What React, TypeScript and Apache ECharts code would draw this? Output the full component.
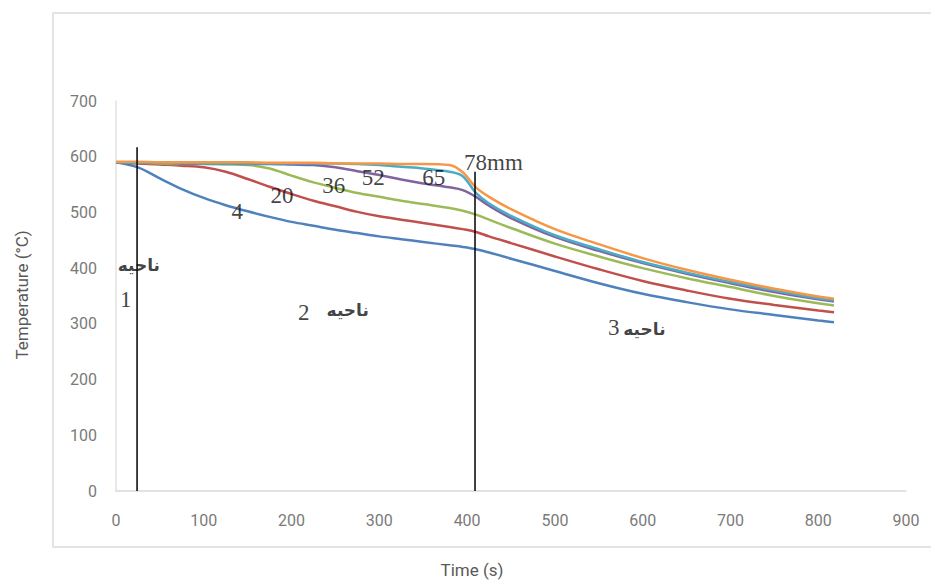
import React, { useEffect, useRef } from "react";
import * as echarts from "echarts";

const timeS = [0, 25, 50, 75, 100, 125, 150, 175, 200, 225, 250, 275, 300, 325, 350, 380, 395, 410, 425, 450, 500, 550, 600, 650, 700, 750, 800, 818];

const t4mm = [590, 581, 561, 542, 526, 513, 502, 492, 483, 476, 469, 463, 457, 452, 447, 441, 438, 434, 428, 417, 395, 373, 354, 339, 326, 316, 306, 303];
const t20mm = [590, 588, 586, 584, 581, 573, 560, 546, 533, 521, 511, 501, 493, 487, 481, 474, 470, 465, 457, 445, 421, 398, 377, 360, 345, 334, 324, 321];
const t36mm = [590, 589, 588, 587, 587, 586, 585, 579, 566, 554, 544, 535, 528, 521, 515, 508, 503, 496, 487, 472, 444, 421, 400, 382, 366, 350, 337, 333];
const t52mm = [590, 589, 589, 588, 588, 588, 587, 587, 586, 585, 581, 574, 567, 559, 552, 545, 540, 528, 512, 490, 456, 431, 409, 390, 373, 357, 344, 340];
const t65mm = [590, 589, 589, 589, 588, 588, 588, 588, 588, 588, 588, 587, 585, 582, 579, 573, 565, 535, 516, 494, 459, 434, 411, 392, 375, 360, 346, 342];
const t78mm = [591, 591, 590, 590, 590, 590, 590, 589, 589, 589, 588, 588, 588, 587, 587, 585, 572, 545, 528, 506, 470, 443, 418, 397, 379, 363, 349, 345];

const seriesNames = ["4mm", "20mm", "36mm", "52mm", "65mm", "78mm"];
const seriesColors = ["#4F81BD", "#C0504D", "#9BBB59", "#8064A2", "#4BACC6", "#F79646"];
const seriesValues = [t4mm, t20mm, t36mm, t52mm, t65mm, t78mm];

// region boundaries: [time, top temperature]
const boundaries = [
  [24, 617],
  [409, 573],
];

// curve labels: [time, temperature, text]
const curveLabels: [number, number, string][] = [
  [138, 501, "4"],
  [189, 530, "20"],
  [248, 549, "36"],
  [293, 562, "52"],
  [362, 562, "65"],
  [430, 590, "78mm"],
  [11, 343, "1"],
  [214, 321, "2"],
  [567, 293, "3"],
];

// region labels (Persian): [time, temperature, text]
const regionLabels: [number, number, string][] = [
  [26, 406, "ناحیه"],
  [264, 325, "ناحیه"],
  [602, 290, "ناحیه"],
];

const xTicks = [0, 900, 100];
const yTicks = [0, 700, 100];

export default function App() {
  const ref = useRef<HTMLDivElement>(null);
  useEffect(() => {
    if (!ref.current) return;
    const chart = echarts.init(ref.current, null, { renderer: "svg" });
    const lineSeries = seriesNames.map((name, i) => ({
      type: "line",
      name,
      data: timeS.map((t, j) => [t, seriesValues[i][j]]),
      smooth: 0.35,
      showSymbol: false,
      symbol: "none",
      lineStyle: { color: seriesColors[i], width: 2.5 },
      z: 2 + i,
    }));
    const boundarySeries = boundaries.map((b, i) => ({
      type: "line",
      name: "boundary" + i,
      data: [
        [b[0], 0],
        [b[0], b[1]],
      ],
      symbol: "none",
      lineStyle: { color: "#000", width: 1.5 },
      z: 10,
    }));
    const option: any = {
      animation: false,
      backgroundColor: "#fff",
      grid: { left: 116, right: 25, top: 101, bottom: 91 },
      xAxis: {
        type: "value",
        min: xTicks[0],
        max: xTicks[1],
        interval: xTicks[2],
        axisLine: { show: true, lineStyle: { color: "#d9d9d9", width: 1.5 } },
        axisTick: { show: false },
        splitLine: { show: false },
        axisLabel: { color: "#7a7a7a", fontFamily: "Roboto", fontSize: 16, margin: 21 },
      },
      yAxis: {
        type: "value",
        min: yTicks[0],
        max: yTicks[1],
        interval: yTicks[2],
        axisLine: { show: true, lineStyle: { color: "#e3e3e3", width: 1.5 } },
        axisTick: { show: false },
        splitLine: { show: false },
        axisLabel: { color: "#7a7a7a", fontFamily: "Roboto", fontSize: 16, margin: 19 },
      },
      graphic: [
        {
          type: "rect",
          shape: { x: 53, y: 13, width: 900, height: 534 },
          style: { fill: "none", stroke: "#dcdcdc", lineWidth: 1.5 },
          silent: true,
          z: -1,
        },
        {
          type: "text",
          x: 22,
          y: 295,
          rotation: Math.PI / 2,
          style: {
            text: "Temperature (°C)",
            fontFamily: "Roboto",
            fontSize: 17,
            fill: "#595959",
            align: "center",
            verticalAlign: "middle",
          },
        },
        {
          type: "text",
          x: 472,
          y: 570,
          style: {
            text: "Time (s)",
            fontFamily: "Roboto",
            fontSize: 17,
            fill: "#595959",
            align: "center",
            verticalAlign: "middle",
          },
        },
      ],
      series: [
        ...lineSeries,
        ...boundarySeries,
        {
          type: "scatter",
          name: "curveLabels",
          symbolSize: 0,
          data: curveLabels.map((c) => ({ value: [c[0], c[1]], name: c[2] })),
          label: {
            show: true,
            position: "inside",
            formatter: "{b}",
            fontFamily: "Liberation Serif",
            fontSize: 23,
            color: "#111",
          },
          z: 20,
        },
        {
          type: "scatter",
          name: "regionLabels",
          symbolSize: 0,
          data: regionLabels.map((c) => ({ value: [c[0], c[1]], name: c[2] })),
          label: {
            show: true,
            position: "inside",
            formatter: "{b}",
            fontFamily: "DejaVu Sans",
            fontWeight: "bold",
            fontSize: 17,
            color: "#111",
          },
          z: 20,
        },
      ],
    };
    chart.setOption(option);
    return () => chart.dispose();
  }, []);
  return (
    <div
      ref={ref}
      style={{ position: "fixed", left: 0, top: 0, width: 931, height: 582, background: "#fff" }}
    />
  );
}
